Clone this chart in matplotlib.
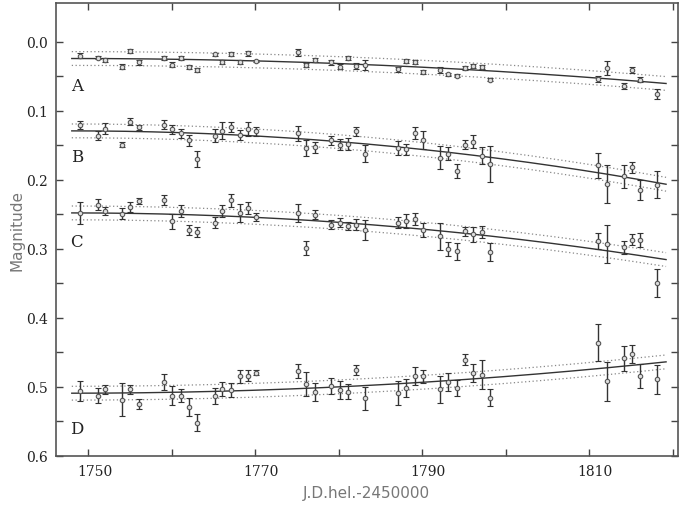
import numpy as np
import matplotlib
matplotlib.use("Agg")
import matplotlib.pyplot as plt
from matplotlib.ticker import FixedLocator
import matplotlib.transforms as mtrans

# observation dates (J.D.hel. - 2450000), shared by all four stars
t = [1749.0, 1751.1, 1752.0, 1754.0, 1755.0, 1756.1, 1759.0, 1760.0, 1761.1, 1762.1,
     1763.0, 1765.1, 1766.0, 1767.1, 1768.1, 1769.1, 1770.1, 1775.1, 1776.1, 1777.1,
     1779.1, 1780.1, 1781.1, 1782.1, 1783.1, 1787.1, 1788.1, 1789.1, 1790.1, 1792.1,
     1793.1, 1794.1, 1795.1, 1796.1, 1797.1, 1798.1, 1811.1, 1812.1, 1814.1, 1815.1,
     1816.1, 1818.1]

mag_A = [0.020, 0.023, 0.026, 0.036, 0.014, 0.030, 0.023, 0.033, 0.023, 0.037,
         0.041, 0.018, 0.029, 0.018, 0.029, 0.017, 0.028, 0.015, 0.034, 0.026,
         0.030, 0.036, 0.024, 0.035, 0.034, 0.040, 0.028, 0.029, 0.044, 0.041,
         0.047, 0.049, 0.038, 0.035, 0.036, 0.055, 0.054, 0.038, 0.064, 0.041,
         0.055, 0.076]
err_A = [0.003, 0.002, 0.003, 0.004, 0.003, 0.003, 0.003, 0.003, 0.003, 0.003,
         0.003, 0.002, 0.003, 0.003, 0.003, 0.003, 0.002, 0.005, 0.003, 0.003,
         0.003, 0.004, 0.003, 0.004, 0.007, 0.004, 0.003, 0.003, 0.003, 0.004,
         0.002, 0.002, 0.003, 0.003, 0.003, 0.002, 0.004, 0.0095, 0.004, 0.004,
         0.004, 0.0068]

mag_B = [0.121, 0.136, 0.126, 0.149, 0.116, 0.124, 0.120, 0.127, 0.133, 0.143,
         0.170, 0.136, 0.129, 0.124, 0.135, 0.127, 0.130, 0.133, 0.154, 0.153,
         0.143, 0.149, 0.148, 0.130, 0.162, 0.154, 0.156, 0.132, 0.143, 0.168,
         0.162, 0.187, 0.149, 0.145, 0.165, 0.177, 0.179, 0.206, 0.195, 0.182,
         0.215, 0.207]
err_B = [0.006, 0.007, 0.008, 0.004, 0.005, 0.004, 0.0065, 0.007, 0.006, 0.0085,
         0.011, 0.009, 0.012, 0.007, 0.007, 0.010, 0.006, 0.011, 0.012, 0.008,
         0.007, 0.008, 0.0085, 0.007, 0.013, 0.010, 0.008, 0.009, 0.013, 0.017,
         0.010, 0.010, 0.006, 0.0097, 0.012, 0.026, 0.018, 0.028, 0.017, 0.0077,
         0.0145, 0.019]

mag_C = [0.248, 0.236, 0.245, 0.249, 0.240, 0.231, 0.229, 0.260, 0.245, 0.273,
         0.276, 0.262, 0.245, 0.230, 0.248, 0.241, 0.254, 0.248, 0.299, 0.251,
         0.265, 0.262, 0.267, 0.265, 0.273, 0.262, 0.260, 0.257, 0.273, 0.282,
         0.300, 0.304, 0.275, 0.279, 0.276, 0.305, 0.289, 0.293, 0.298, 0.287,
         0.287, 0.350]
err_C = [0.016, 0.0075, 0.006, 0.008, 0.007, 0.0043, 0.007, 0.011, 0.0085, 0.007,
         0.007, 0.008, 0.009, 0.0097, 0.013, 0.008, 0.0053, 0.0128, 0.0104, 0.0065,
         0.007, 0.007, 0.006, 0.008, 0.0145, 0.008, 0.0097, 0.0085, 0.010, 0.020,
         0.010, 0.012, 0.006, 0.011, 0.0087, 0.013, 0.012, 0.027, 0.009, 0.008,
         0.0104, 0.020]

mag_D = [0.506, 0.513, 0.504, 0.519, 0.504, 0.525, 0.493, 0.513, 0.513, 0.529,
         0.552, 0.513, 0.503, 0.505, 0.485, 0.484, 0.480, 0.477, 0.496, 0.508,
         0.499, 0.505, 0.507, 0.476, 0.517, 0.509, 0.502, 0.485, 0.485, 0.504,
         0.493, 0.502, 0.461, 0.480, 0.483, 0.516, 0.436, 0.492, 0.459, 0.452,
         0.484, 0.489]
err_D = [0.015, 0.011, 0.006, 0.024, 0.006, 0.0072, 0.012, 0.0135, 0.0097, 0.013,
         0.0128, 0.0116, 0.0104, 0.0104, 0.009, 0.008, 0.0036, 0.0104, 0.017, 0.013,
         0.012, 0.0128, 0.0104, 0.0077, 0.0164, 0.017, 0.013, 0.013, 0.0097, 0.019,
         0.0135, 0.0116, 0.0077, 0.0126, 0.021, 0.0123, 0.027, 0.028, 0.018, 0.013,
         0.0174, 0.021]

stars = ["A", "B", "C", "D"]
mags = [mag_A, mag_B, mag_C, mag_D]
errs = [err_A, err_B, err_C, err_D]
band = 0.010   # half width of the dotted band
t0 = 1748.0    # start of the fitted trend

fig = plt.figure(figsize=(6.93, 5.06), dpi=100)
ax = fig.add_axes([0.0807, 0.0974, 0.8973, 0.8941])

t = np.array(t)
tt = np.linspace(t0, 1819.2, 200)
for name, m, e in zip(stars, mags, errs):
    m = np.array(m)
    e = np.array(e)
    # parabolic trend m = a + b*(t-t0)^2, plain least squares
    A = np.vstack([np.ones_like(t), (t - t0) ** 2]).T
    (a, b), *_ = np.linalg.lstsq(A, m, rcond=None)
    fit = a + b * (tt - t0) ** 2
    ax.plot(tt, fit, color="#333333", lw=1.0)
    ax.plot(tt, fit - band, color="#888888", lw=0.9, ls=(0, (1, 2)))
    ax.plot(tt, fit + band, color="#888888", lw=0.9, ls=(0, (1, 2)))
    ax.errorbar(t, m, yerr=e, fmt="o", ms=3.2, mfc="#dddddd", mec="#555555",
                mew=0.8, ecolor="#333333", elinewidth=1.0, capsize=2.0,
                capthick=1.0)

# star labels
for name, y in zip(stars, [0.064, 0.167, 0.290, 0.561]):
    ax.text(1748.6, y, name, fontsize=12, family="DejaVu Serif",
            ha="center", va="center", color="#222222")

ax.set_xlim(1746.1, 1820.6)
ax.set_ylim(0.6, -0.0557)

ax.xaxis.set_major_locator(FixedLocator([1750, 1770, 1790, 1810]))
ax.xaxis.set_minor_locator(FixedLocator([1760, 1780, 1800, 1820]))
ax.yaxis.set_major_locator(FixedLocator([0.0, 0.1, 0.2, 0.3, 0.4, 0.5, 0.6]))
ax.yaxis.set_minor_locator(FixedLocator([0.05, 0.15, 0.25, 0.35, 0.45, 0.55]))
ax.set_yticklabels(["0.0", "0.1", "0.2", "0.3", "0.4", "0.5", "0.6"])

ax.tick_params(which="both", direction="in", top=True, right=True,
               length=5, width=1.0, color="#444444",
               labelsize=10, pad=6)
for lab in ax.get_xticklabels() + ax.get_yticklabels():
    lab.set_family("DejaVu Serif")
    lab.set_color("#222222")
# x labels sit a little to the right of their ticks in the original
shift = mtrans.ScaledTranslation(6 / 100, 0, fig.dpi_scale_trans)
for lab in ax.get_xticklabels():
    lab.set_transform(lab.get_transform() + shift)

for s in ax.spines.values():
    s.set_color("#555555")
    s.set_linewidth(1.2)

ax.set_xlabel("J.D.hel.-2450000", color="#777777", fontsize=11, labelpad=5)
ax.set_ylabel("Magnitude", color="#777777", fontsize=11, labelpad=1)

fig.savefig("out.png", dpi=100)
